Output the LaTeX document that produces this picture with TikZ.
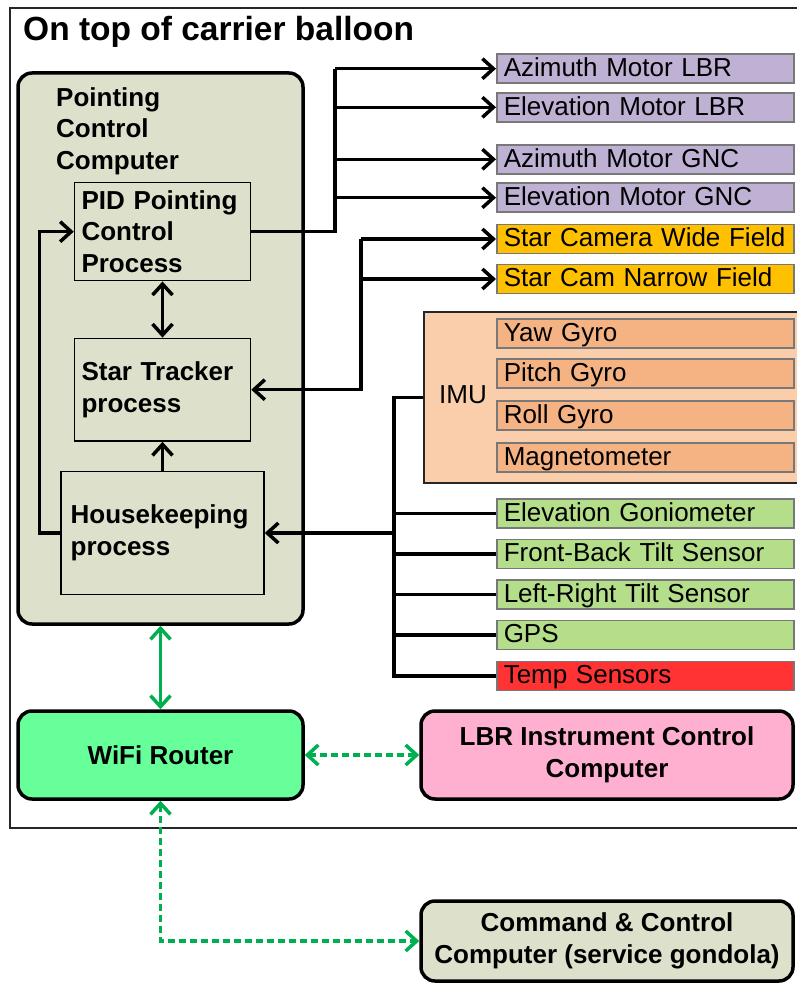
\documentclass[tikz,border=0pt]{standalone}
\usepackage{fontspec}
\setmainfont{Liberation Sans}
\usetikzlibrary{arrows.meta}

\definecolor{pccfill}{RGB}{221,225,204}
\definecolor{motorfill}{RGB}{191,177,212}
\definecolor{camfill}{RGB}{255,192,0}
\definecolor{imufill}{RGB}{250,206,170}
\definecolor{gyrofill}{RGB}{245,178,130}
\definecolor{sensfill}{RGB}{180,222,138}
\definecolor{tempfill}{RGB}{255,51,51}
\definecolor{wififill}{RGB}{102,255,153}
\definecolor{lbrfill}{RGB}{255,175,208}
\definecolor{linkgreen}{RGB}{0,176,80}
\definecolor{devgray}{RGB}{120,120,120}

\begin{document}
\begin{tikzpicture}[x=1pt, y=-1pt,
    >={Straight Barb[length=11pt,width=20pt]},
    dline/.style={line width=3.5pt},
    gline/.style={line width=3.5pt, draw=linkgreen},
    gdash/.style={gline, dash pattern=on 7pt off 4pt},
    bold/.style={font=\bfseries\fontsize{26}{31.5}\selectfont},
    bigbox/.style={draw, line width=3.5pt, rounded corners=14pt, inner sep=0pt, bold, align=center},
    procbox/.style={draw, line width=1.5pt, fill=pccfill, bold, align=left, inner xsep=7pt},
    devbox/.style={draw=devgray, line width=1.5pt, anchor=west, minimum width=297pt,
        text width=283pt, inner xsep=7pt, inner ysep=0pt, minimum height=29pt,
        text height=20pt, text depth=4.5pt, font=\fontsize{26}{31.5}\selectfont}
]
\useasboundingbox (0,0) rectangle (796,984);

% Marco
\draw[line width=2pt, draw=black!85] (800,8) -- (10,8) -- (10,828) -- (800,828);
\node[anchor=west, inner sep=0pt, font=\bfseries\fontsize{33.5}{40}\selectfont] (title) at (23,31.5) {On top of carrier balloon};

% Computadora de apuntado
\node[bigbox, fill=pccfill, minimum width=285pt, minimum height=551pt] (pcc) at (160.5,348.5) {};
\node[bold, anchor=west, align=left, inner sep=0pt] (pcclbl) at (56,131) {Pointing\\Control\\Computer};
\node[procbox, text width=162pt, minimum height=98pt] (pid) at (162.5,231.7) {PID Pointing\\Control\\Process};
\node[procbox, text width=162pt, minimum height=102.7pt] (star) at (162.5,389.7) {Star Tracker\\process};
\node[procbox, text width=183.6pt, inner xsep=9.7pt, minimum height=122.6pt] (hk) at (162.5,533) {Housekeeping\\process};

% Motores y camaras
\node[devbox, fill=motorfill] (azl) at (496,68.7) {Azimuth Motor LBR};
\node[devbox, fill=motorfill] (ell) at (496,107.3) {Elevation Motor LBR};
\node[devbox, fill=motorfill] (azg) at (496,159.3) {Azimuth Motor GNC};
\node[devbox, fill=motorfill] (elg) at (496,197.7) {Elevation Motor GNC};
\node[devbox, fill=camfill] (scw) at (496,239) {Star Camera Wide Field};
\node[devbox, fill=camfill] (scn) at (496,279) {Star Cam Narrow Field};

% IMU
\node[draw=black!85, line width=2pt, fill=imufill, minimum width=386pt, minimum height=171pt] (imu) at (617,397.5) {};
\node[font=\fontsize{26}{31.5}\selectfont] (imulbl) at (463,395) {IMU};
\node[devbox, fill=gyrofill] (yaw) at (496,333.7) {Yaw Gyro};
\node[devbox, fill=gyrofill] (pitch) at (496,373.7) {Pitch Gyro};
\node[devbox, fill=gyrofill] (roll) at (496,415.3) {Roll Gyro};
\node[devbox, fill=gyrofill] (mag) at (496,457.7) {Magnetometer};

% Sensores
\node[devbox, fill=sensfill] (gon) at (496,513.5) {Elevation Goniometer};
\node[devbox, fill=sensfill] (fbt) at (496,554) {Front-Back Tilt Sensor};
\node[devbox, fill=sensfill] (lrt) at (496,594.5) {Left-Right Tilt Sensor};
\node[devbox, fill=sensfill] (gps) at (496,635) {GPS};
\node[devbox, fill=tempfill] (tmp) at (496,676) {Temp Sensors};

% Red
\node[bigbox, fill=wififill, minimum width=285pt, minimum height=88pt] (wifi) at (160.5,755) {WiFi Router};
\node[bigbox, fill=lbrfill, minimum width=372pt, minimum height=88pt] (lbr) at (607,755) {LBR Instrument Control\\Computer};
\node[bigbox, fill=pccfill, minimum width=372pt, minimum height=80pt] (cc) at (607,941) {Command \& Control\\Computer (service gondola)};

% Flechas entre procesos
\draw[dline, <->] (pid) -- (star);
\draw[dline, ->] (hk) -- (star);
\draw[dline, ->] (hk.west) -- ++(-21,0) |- (pid.west);

% Flechas a motores
\coordinate (mbus) at (335,0);
\draw[dline] (pid.east) -| (mbus |- azl.west);
\foreach \n in {azl,ell,azg,elg}
    \draw[dline, ->] (mbus |- \n.west) -- (\n.west);

% Flechas a camaras
\coordinate (cbus) at (361,0);
\draw[dline, ->] (cbus |- scw.west) -- (cbus |- star.east) -- (star.east);
\foreach \n in {scw,scn}
    \draw[dline, ->] (cbus |- \n.west) -- (\n.west);

% Bus de sensores
\coordinate (sbus) at (394,0);
\draw[dline] (imu.west) -| (sbus |- tmp.west) -- (tmp.west);
\foreach \n in {gon,fbt,lrt,gps}
    \draw[dline] (sbus |- \n.west) -- (\n.west);
\draw[dline, ->] (sbus |- hk.east) -- (hk.east);

% Enlaces de red
\draw[gline, <->] (pcc) -- (wifi);
\draw[gdash, <->] (wifi) -- (lbr);
\draw[gdash, <->] (wifi.south) |- (cc.west);
\end{tikzpicture}
\end{document}
